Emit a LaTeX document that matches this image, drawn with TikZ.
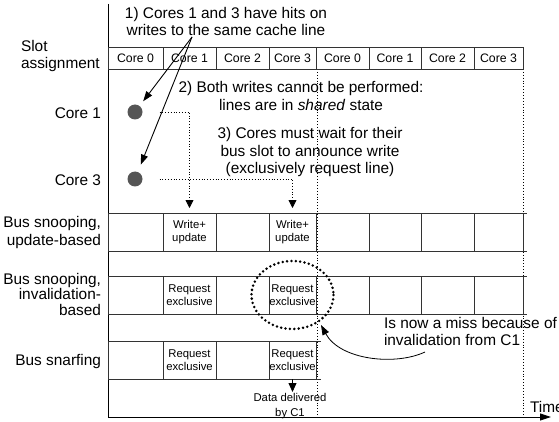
\documentclass[tikz,border=0pt]{standalone}
\usepackage{fontspec}
\setmainfont{Liberation Sans}
\usetikzlibrary{arrows.meta}
\definecolor{linegray}{HTML}{333333}
\definecolor{dotgray}{HTML}{555555}
\begin{document}
\begin{tikzpicture}[x=1pt,y=-1pt,
  every node/.style={inner sep=0pt, outer sep=0pt},
  big/.style={font=\fontsize{15.4}{17.5}\selectfont},
  slotlbl/.style={font=\fontsize{12.3}{14}\selectfont},
  small/.style={font=\fontsize{11.3}{13}\selectfont},
  cell/.style={draw=linegray, line width=0.9pt, align=center},
  arr/.style={draw=black, line width=0.9pt, -{Triangle[length=10pt,width=7pt]}},
  conn/.style={draw=black, dotted, line width=0.8pt, -{Triangle[length=8pt,width=8pt]}},
  guide/.style={draw=black, dotted, line width=0.9pt},
  ring/.style={draw=black, line width=2.8pt, line cap=round, dash pattern=on 0pt off 4.4pt},
  dotnode/.style={circle, fill=dotgray, minimum size=15pt}
]
\useasboundingbox (0,0) rectangle (559,422);

% axes
\coordinate (ytop) at (108,4);
\coordinate (origin) at (108,417);
\coordinate (tend) at (551,417);
\draw[line width=0.9pt, -{Triangle[length=11pt,width=7pt]}] (ytop) -- (origin) -- (tend);
\node[big, anchor=base west] (time) at (530,412) {Time};

% slot boundaries as time guides
\coordinate (g1top) at (317,69);  \coordinate (g1bot) at (317,417);
\coordinate (g2top) at (523,69);  \coordinate (g2bot) at (523,417);
\draw[guide] (g1top) -- (g1bot);
\draw[guide] (g2top) -- (g2bot);

% row labels (base anchor = baseline of the last line)
\node[big, anchor=base west, align=left] (lslot) at (21,69) {Slot\\assignment};
\node[big, anchor=base east] (lcore1) at (101,118.5) {Core 1};
\node[big, anchor=base east] (lcore3) at (101,185.5) {Core 3};
\node[big, anchor=base east, align=right] (lupd) at (101,245) {Bus snooping,\\update-based};
\node[big, anchor=base east, align=right, font=\fontsize{15.4}{15.5}\selectfont] (linv) at (101,315) {Bus snooping,\\invalidation-\\based};
\node[big, anchor=base east] (lsnf) at (101,365) {Bus snarfing};

% slot assignment row
\foreach \i/\a/\b/\t in {1/108/163/{Core 0},2/163/216/{Core 1},3/216/269/{Core 2},4/269/316/{Core 3},
                          5/316/369/{Core 0},6/369/421/{Core 1},7/421/474/{Core 2},8/474/523/{Core 3}}
  \node[cell, slotlbl, minimum width={(\b-\a)*1pt}, minimum height=22pt] (slot\i) at ({(\a+\b)/2},58) {\t};

% update-based snooping row
\foreach \i/\a/\b/\t in {1/108/163/{},2/163/216/{Write+\\update},3/216/269/{},4/269/316/{Write+\\update},
                          5/316/369/{},6/369/421/{},7/421/474/{},8/474/523/{}}
  \node[cell, small, minimum width={(\b-\a)*1pt}, minimum height=38pt] (upd\i) at ({(\a+\b)/2},232) {\t};

% invalidation-based snooping row
\foreach \i/\a/\b/\t in {1/108/163/{},2/163/216/{Request\\exclusive},3/216/269/{},4/269/316/{Request\\exclusive},
                          5/316/369/{},6/369/421/{},7/421/474/{},8/474/523/{}}
  \node[cell, small, minimum width={(\b-\a)*1pt}, minimum height=38pt] (inv\i) at ({(\a+\b)/2},295) {\t};

% snarfing row
\foreach \i/\a/\b/\t in {1/108/163/{},2/163/216/{Request\\exclusive},3/216/269/{},4/269/316/{Request\\exclusive}}
  \node[cell, small, minimum width={(\b-\a)*1pt}, minimum height=38pt] (snf\i) at ({(\a+\b)/2},360) {\t};

% short overhangs of the row borders
\draw[draw=linegray, line width=0.9pt] (upd8.north east) -- ++(4,0) (upd8.south east) -- ++(4,0)
  (inv8.north east) -- ++(4,0) (inv8.south east) -- ++(4,0)
  (snf4.north east) -- ++(5,0) (snf4.south east) -- ++(5,0);

% cores
\node[dotnode] (c1dot) at (135,112) {};
\node[dotnode] (c3dot) at (135,179) {};

% notes
\node[big, align=center, anchor=base] (note1) at (226,36) {1) Cores 1 and 3 have hits on\\writes to the same cache line};
\node[big, align=center, anchor=base] (note2) at (301,110.5) {2) Both writes cannot be performed:\\lines are in \textit{shared} state};
\node[big, align=center, anchor=base] (note3) at (310,174) {3) Cores must wait for their\\bus slot to announce write\\(exclusively request line)};

\coordinate (hit) at (192,37);
\draw[arr, shorten >=6pt] (hit) -- (c1dot);
\draw[arr, shorten >=8pt] (hit) -- (c3dot);

% waiting for the own bus slot
\draw[conn, shorten <=17pt, shorten >=5pt] (c1dot) -| (upd2.north);
\draw[conn, shorten <=17pt, shorten >=5pt] (c3dot) -| (upd4.north);

% the invalidated request
\draw[ring] (inv4.center) ellipse [x radius=41, y radius=34];
\node[big, align=left, anchor=base west] (miss) at (384,345.5) {Is now a miss because of\\invalidation from C1};
\coordinate (missfrom) at (425,352);
\coordinate (misstip) at (321,325);
\draw[arr, line width=0.8pt] (missfrom) .. controls (395,366) and (340,360) .. (misstip);

% data delivered by snarfing
\coordinate (datatip) at (292.5,392);
\draw[arr, line width=0.8pt, -{Triangle[length=9pt,width=8pt]}] (snf4.south) -- (datatip);
\node[small, align=center, anchor=base, font=\fontsize{11.3}{15}\selectfont] (data) at (290,416) {Data delivered\\by C1};
\end{tikzpicture}
\end{document}
